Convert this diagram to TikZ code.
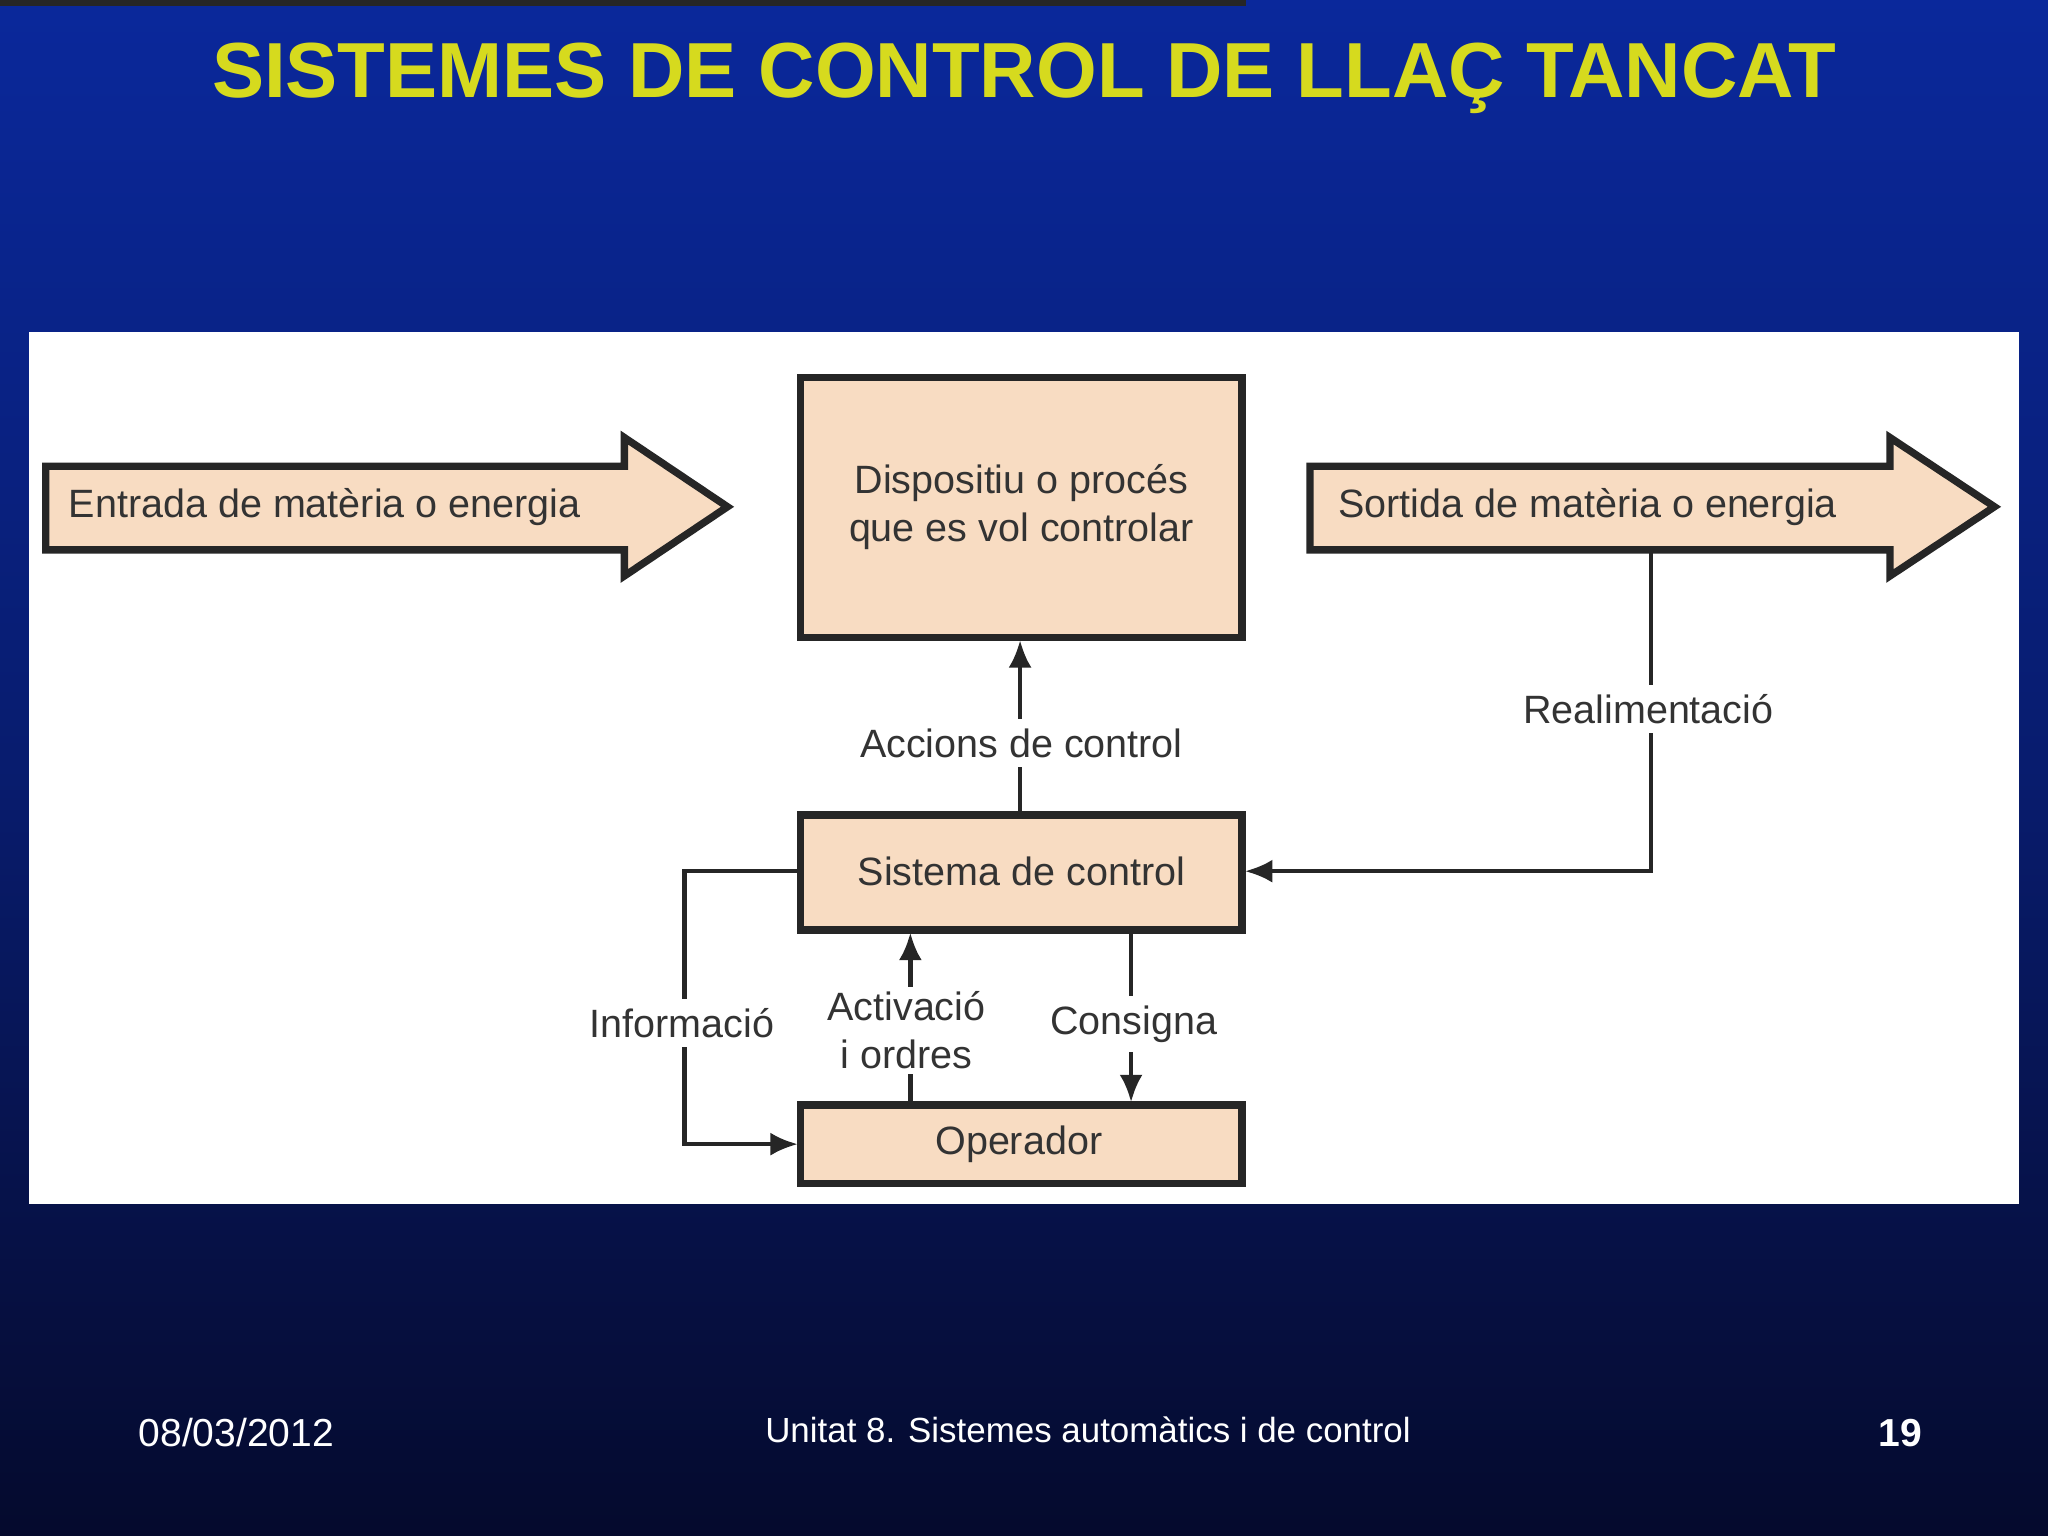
\documentclass[tikz,border=0pt]{standalone}
\usepackage{fontspec}
\setmainfont{Liberation Sans}
\usetikzlibrary{arrows.meta}
\definecolor{peach}{HTML}{F8DCC2}
\definecolor{ttl}{HTML}{D6DA1E}
\definecolor{txt}{HTML}{333333}
\begin{document}
\begin{tikzpicture}[x=0.01cm,y=-0.01cm,
  blk/.style={draw=black!85,line width=1.6pt,fill=peach},
  lab/.style={font=\fontsize{8.6}{10.5}\selectfont,text=txt,fill=white,inner sep=2pt,align=center},
  ln/.style={line width=1pt,draw=black!85},
  arr/.style={ln,-{Latex[length=6pt,width=5pt]}}]
\shade[top color={rgb,255:red,10;green,40;blue,155},bottom color={rgb,255:red,5;green,10;blue,45},middle color={rgb,255:red,8;green,28;blue,110}] (0,0) rectangle (1568,1176);
\useasboundingbox (0,0) rectangle (1568,1176);
\node[font=\bfseries\fontsize{17}{20}\selectfont,text=ttl] (title) at (784,60) {SISTEMES DE CONTROL DE LLAÇ TANCAT};
\fill[white] (22,254) rectangle (1546,922);
% arrows
\draw[blk] (35,357) -- (478,357) -- (478,335) -- (557,388) -- (478,441) -- (478,421) -- (35,421) -- cycle;
\node[lab,fill=none,anchor=west] (in) at (45,388) {Entrada de matèria o energia};
\draw[blk] (1003,357) -- (1447,357) -- (1447,335) -- (1527,388) -- (1447,441) -- (1447,421) -- (1003,421) -- cycle;
\node[lab,fill=none,anchor=west] (out) at (1017,388) {Sortida de matèria o energia};
\node[blk,minimum width=338\pgflinewidth,inner sep=0] at (0,0) {};
\draw[blk] (613,289) rectangle (951,488);
\node[lab,fill=none] (disp) at (782,388) {Dispositiu o procés\\que es vol controlar};
\draw[blk] (613,624) rectangle (951,712);
\node[lab,fill=none] (sis) at (782,667) {Sistema de control};
\draw[blk] (613,846) rectangle (951,906);
\node[lab,fill=none] (op) at (780,876) {Operador};
\coordinate (a1) at (781,622); \coordinate (a2) at (781,490);
\draw[arr] (a1) -- (a2);
\node[lab] (acc) at (782,569) {Accions de control};
\coordinate (r1) at (1264,423); \coordinate (r2) at (1264,667); \coordinate (r3) at (953,667);
\draw[arr] (r1) -- (r2) -- (r3);
\node[lab] (rea) at (1262,543) {Realimentació};
\coordinate (i1) at (611,667); \coordinate (i2) at (524,667); \coordinate (i3) at (524,876); \coordinate (i4) at (611,876);
\draw[arr] (i1) -- (i2) -- (i3) -- (i4);
\node[lab] (inf) at (522,783) {Informació};
\coordinate (c1) at (697,844); \coordinate (c2) at (697,714);
\draw[arr] (c1) -- (c2);
\node[lab,inner sep=1pt] (act) at (694,789) {Activació\\i ordres};
\coordinate (d1) at (866,714); \coordinate (d2) at (866,844);
\draw[arr] (d1) -- (d2);
\node[lab] (con) at (868,784) {Consigna};
\node[text=white,font=\fontsize{8.5}{10}\selectfont] (date) at (181,1097) {08/03/2012};
\node[text=white,font=\fontsize{7.6}{9}\selectfont] (unit) at (833,1095) {Unitat 8. Sistemes automàtics i de control};
\node[text=white,font=\bfseries\fontsize{8.5}{10}\selectfont] (pg) at (1455,1097) {19};
\end{tikzpicture}
\end{document}
